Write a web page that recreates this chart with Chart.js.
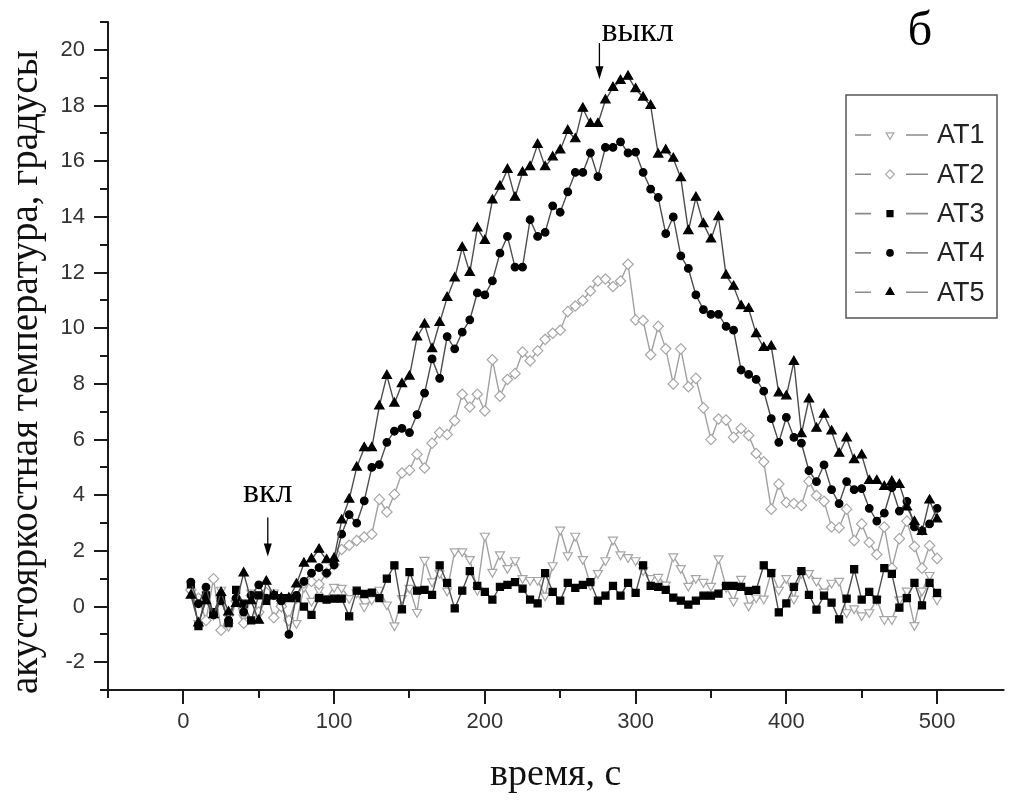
<!DOCTYPE html>
<html><head><meta charset="utf-8">
<script src="https://cdn.jsdelivr.net/npm/chart.js@4.4.1/dist/chart.umd.min.js"></script>
<style>html,body{margin:0;padding:0;background:#fff;overflow:hidden}canvas{display:block}</style>
</head><body>
<canvas id="c" width="1010" height="800"></canvas>
<script>
// ---- data (time, s) ----
const times = [5,10,15,20,25,30,35,40,45,50,55,60,65,70,75,80,85,90,95,100,
105,110,115,120,125,130,135,140,145,150,155,160,165,170,175,180,185,190,195,200,
205,210,215,220,225,230,235,240,245,250,255,260,265,270,275,280,285,290,295,300,
305,310,315,320,325,330,335,340,345,350,355,360,365,370,375,380,385,390,395,400,
405,410,415,420,425,430,435,440,445,450,455,460,465,470,475,480,485,490,495,500];

const at1 = [0.5,-0.6,0.3,-0.3,0.6,-0.7,0.2,-0.4,0.5,-0.3,
0.3,0.5,0.0,-0.5,-0.6,0.7,0.2,0.6,0.3,0.7,
0.67,0.3,0.5,0.0,0.25,0.6,0.07,-0.68,0.3,0.67,
-0.2,1.67,0.9,1.2,0.57,1.98,1.98,1.7,0.6,2.54,
1.24,1.87,1.38,1.66,1.02,0.95,0.95,0.39,1.48,2.76,
1.84,2.54,1.7,0.78,1.2,1.66,2.4,1.87,1.77,1.66,
1.3,1.02,1.06,0.78,1.8,1.38,0.74,1.02,0.88,0.74,
1.73,0.7,0.2,0.99,0.03,0.32,0.28,1.24,0.6,1.02,
0.28,1.2,1.2,0.92,0.53,0.85,0.92,-0.21,-0.07,-0.32,
-0.21,0.25,-0.46,-0.46,0.25,0.57,-0.67,0.57,1.13,0.25];

const at2 = [0.6,0.3,-0.5,1.0,-0.85,-0.3,0.2,-0.6,0.4,-0.2,
0.5,-0.4,0.0,-0.5,0.3,0.85,0.9,0.8,1.2,1.5,
2.05,2.2,2.37,2.5,2.6,3.85,3.4,4.03,4.8,4.9,
5.47,4.98,5.87,6.25,6.18,6.68,7.63,7.17,7.63,7.03,
8.87,7.56,8.16,8.37,9.15,8.83,9.19,9.6,9.82,9.93,
10.6,10.8,11.0,11.34,11.7,11.77,11.5,11.7,12.3,10.3,
10.28,9.05,10.07,9.26,8.0,9.26,7.9,8.2,7.14,6.0,
6.74,6.7,6.08,6.4,6.15,5.5,5.2,3.5,4.4,3.74,
3.7,3.63,4.5,3.99,3.78,2.86,2.83,3.5,2.37,2.97,
2.3,1.87,2.86,1.38,2.44,3.07,2.16,1.38,2.19,1.73];

const at3 = [0.8,-0.7,0.4,-0.2,0.3,-0.6,0.6,0.1,-0.5,0.4,
0.2,0.4,0.3,0.3,0.3,0.0,-0.3,0.3,0.25,0.28,
0.28,-0.35,0.57,0.45,0.5,0.3,1.0,1.48,-0.1,1.24,
0.57,0.6,0.42,1.48,0.85,-0.07,0.57,1.27,0.74,0.53,
0.25,0.71,0.78,0.88,0.64,0.25,0.11,1.2,0.53,0.21,
0.85,0.67,0.78,0.88,0.21,0.39,0.74,0.39,0.85,0.49,
1.48,0.74,0.71,0.6,0.32,0.21,0.07,0.21,0.39,0.39,
0.46,0.74,0.74,0.71,0.56,0.6,1.48,1.2,-0.21,0.11,
0.71,1.27,0.42,-0.11,0.39,0.14,-0.46,0.28,1.34,0.25,
0.53,0.25,1.38,1.17,-0.04,0.3,0.85,0.04,0.85,0.49];

const at4 = [0.88,0.1,0.7,-0.3,0.2,-0.5,0.3,-0.2,0.4,0.78,
0.3,0.4,0.2,-1.0,0.4,0.9,1.2,1.4,1.2,1.5,
2.6,3.3,3.0,3.8,5.0,5.1,5.9,6.3,6.4,6.25,
6.9,7.67,8.9,8.2,9.7,9.26,9.86,10.3,11.27,11.2,
11.7,12.7,13.3,12.2,12.2,13.9,13.3,13.45,14.4,14.17,
14.9,15.6,15.6,16.3,15.45,16.5,16.5,16.7,16.3,16.33,
15.6,15.0,14.7,13.4,14.0,12.6,12.15,11.2,10.67,10.5,
10.5,10.07,9.93,8.5,8.34,8.16,7.74,6.75,5.9,6.8,
6.08,5.87,4.88,4.49,5.09,4.2,3.7,4.49,4.2,4.24,
3.53,3.07,3.36,4.27,3.43,3.78,2.86,2.72,2.97,3.53];

const at5 = [0.4,-0.6,0.2,-0.3,0.5,-0.2,0.1,1.2,0.2,-0.5,
0.9,0.4,0.3,0.3,0.8,1.55,1.7,2.05,1.67,1.73,
3.1,3.85,5.0,5.7,5.7,7.2,8.3,7.3,8.0,8.27,
9.68,10.14,9.26,10.2,11.1,11.8,12.9,12.0,13.6,13.15,
14.6,15.1,15.7,14.7,15.6,15.8,16.6,15.8,16.15,16.4,
17.1,16.8,17.9,17.35,17.35,18.2,18.65,18.9,19.05,18.6,
18.3,18.0,16.25,16.4,16.1,15.4,13.5,14.7,13.75,13.2,
14.0,11.9,11.5,10.8,10.7,9.8,9.3,9.35,7.67,7.56,
8.8,6.2,7.45,6.4,6.9,6.3,5.5,6.05,5.27,5.44,
4.52,4.52,4.31,4.49,4.38,3.57,3.04,2.69,3.82,3.14];

const seriesNames = ['AT1','AT2','AT3','AT4','AT5'];
const xTickLabels = [0,100,200,300,400,500];
const yTickLabels = [-2,0,2,4,6,8,10,12,14,16,18,20];
const xMinorTicks = [-50,50,150,250,350,450];
const yMinorTicks = [-3,-1,1,3,5,7,9,11,13,15,17,19,21];
const onTime = 56, offTime = 276;
const yTitle = 'акустояркостная температура, градусы';

const pts = arr => arr.map((v,i)=>({x:times[i], y:v}));
const styles = [
  {pointStyle:'triangle', rot:180, r:5.2, fill:'#ffffff', stroke:'#a6a6a6', line:'#a0a0a0'},
  {pointStyle:'rectRot', rot:0, r:5.2, fill:'#ffffff', stroke:'#a6a6a6', line:'#a0a0a0'},
  {pointStyle:'rect', rot:0, r:5, fill:'#000000', stroke:'#000000', line:'#4d4d4d'},
  {pointStyle:'circle', rot:0, r:3.8, fill:'#000000', stroke:'#000000', line:'#4d4d4d'},
  {pointStyle:'triangle', rot:0, r:5.4, fill:'#000000', stroke:'#000000', line:'#4d4d4d'}
];
const allSeries = [at1, at2, at3, at4, at5];
const datasets = allSeries.map((arr,i)=>({
  label: seriesNames[i],
  data: pts(arr),
  showLine: true,
  borderColor: styles[i].line,
  borderWidth: 1.4,
  pointStyle: styles[i].pointStyle,
  pointRotation: styles[i].rot,
  pointRadius: styles[i].r,
  pointBackgroundColor: styles[i].fill,
  pointBorderColor: styles[i].stroke,
  pointBorderWidth: 1.2,
  order: 5 - i,
  tension: 0
}));

const axesPlugin = {
  id:'axesPlugin',
  afterDraw(chart){
    const {ctx, chartArea:a, scales:{x,y}} = chart;
    ctx.save();
    ctx.strokeStyle = '#1a1a1a'; ctx.lineWidth = 2; ctx.lineCap='square';
    ctx.beginPath();
    ctx.moveTo(a.left, a.top); ctx.lineTo(a.left, a.bottom); ctx.lineTo(a.right, a.bottom);
    ctx.stroke();
    ctx.lineCap='butt';
    ctx.beginPath();
    yTickLabels.forEach(v=>{const p=Math.round(y.getPixelForValue(v)); ctx.moveTo(a.left-14,p); ctx.lineTo(a.left,p);});
    yMinorTicks.forEach(v=>{const p=Math.round(y.getPixelForValue(v)); ctx.moveTo(a.left-8,p); ctx.lineTo(a.left,p);});
    xTickLabels.forEach(v=>{const p=Math.round(x.getPixelForValue(v)); ctx.moveTo(p,a.bottom); ctx.lineTo(p,a.bottom+14);});
    xMinorTicks.forEach(v=>{const p=Math.round(x.getPixelForValue(v)); ctx.moveTo(p,a.bottom); ctx.lineTo(p,a.bottom+8);});
    ctx.stroke();
    // y axis title
    ctx.fillStyle = '#111';
    ctx.font = '39px "Liberation Serif"';
    ctx.textAlign = 'center'; ctx.textBaseline = 'middle';
    ctx.translate(27, (y.getPixelForValue(21) + y.getPixelForValue(-3))/2 + 16);
    ctx.rotate(-Math.PI/2);
    ctx.fillText(yTitle, 0, 0);
    ctx.restore();
  }
};

function arrow(ctx, px, y0, y1){
  ctx.beginPath(); ctx.moveTo(px, y0); ctx.lineTo(px, y1-10); ctx.stroke();
  ctx.beginPath(); ctx.moveTo(px-4, y1-13); ctx.lineTo(px+4, y1-13); ctx.lineTo(px, y1); ctx.closePath(); ctx.fill();
}

const annotPlugin = {
  id:'annotPlugin',
  afterDraw(chart){
    const {ctx, scales:{x,y}} = chart;
    ctx.save();
    ctx.fillStyle='#000'; ctx.strokeStyle='#000'; ctx.lineWidth=1.3;
    const xOn = x.getPixelForValue(onTime);
    arrow(ctx, xOn, y.getPixelForValue(3.2), y.getPixelForValue(1.8));
    ctx.font = '34px "Liberation Serif"'; ctx.textAlign='center'; ctx.textBaseline='middle';
    ctx.fillText('вкл', xOn, y.getPixelForValue(4.08));
    const xOff = x.getPixelForValue(offTime);
    arrow(ctx, xOff, y.getPixelForValue(20.25), y.getPixelForValue(18.95));
    ctx.textAlign='left';
    ctx.fillText('выкл', xOff+2, y.getPixelForValue(20.65));
    ctx.font = '48px "Liberation Serif"'; ctx.textAlign='center';
    ctx.fillText('б', 920, 32);
    ctx.restore();
  }
};

const legendPlugin = {
  id:'legendPlugin',
  afterDraw(chart){
    const {ctx} = chart;
    ctx.save();
    ctx.strokeStyle='#555'; ctx.lineWidth=1.5;
    ctx.strokeRect(846, 95, 151, 223);
    chart.data.datasets.forEach((ds,i)=>{
      const cy = 135 + i*39.3;
      ctx.strokeStyle='#8a8a8a'; ctx.lineWidth=1.6;
      ctx.beginPath(); ctx.moveTo(855,cy); ctx.lineTo(871,cy); ctx.moveTo(906,cy); ctx.lineTo(928,cy); ctx.stroke();
      ctx.fillStyle = ds.pointBackgroundColor; ctx.strokeStyle = ds.pointBorderColor; ctx.lineWidth=1.2;
      Chart.helpers.drawPoint(ctx, {pointStyle: ds.pointStyle, rotation: ds.pointRotation, radius: ds.pointRadius*0.85, borderWidth:1.2}, 890, cy);
      ctx.fillStyle='#222'; ctx.font='27px "Liberation Sans"'; ctx.textAlign='left'; ctx.textBaseline='middle';
      ctx.fillText(ds.label, 937, cy+1);
    });
    ctx.restore();
  }
};

Chart.defaults.font.family = '"Liberation Sans", Arial, sans-serif';
new Chart(document.getElementById('c'), {
  type:'scatter',
  data:{datasets},
  plugins:[axesPlugin, annotPlugin, legendPlugin],
  options:{
    responsive:false, animation:false,
    layout:{padding:{top:12, right:2, left:0, bottom:0}},
    plugins:{legend:{display:false}, tooltip:{enabled:false}},
    scales:{
      x:{
        type:'linear', min:-50, max:544,
        afterFit(s){ s.height = 110; },
        afterBuildTicks(s){ s.ticks = xTickLabels.map(v=>({value:v})); },
        grid:{display:false, drawTicks:true, tickLength:14},
        border:{display:false},
        ticks:{font:{size:22}, color:'#333', padding:5, maxRotation:0, autoSkip:false},
        title:{display:true, text:'время, с', font:{family:'"Liberation Serif"', size:38}, color:'#111', padding:{top:0,bottom:2}}
      },
      y:{
        type:'linear', min:-3, max:21,
        afterFit(s){ s.width = 108; },
        afterBuildTicks(s){ s.ticks = yTickLabels.map(v=>({value:v})); },
        grid:{display:false, drawTicks:true, tickLength:14},
        border:{display:false},
        ticks:{font:{size:22}, color:'#333', padding:9, autoSkip:false},
        title:{display:false}
      }
    }
  }
});
</script>
</body></html>
